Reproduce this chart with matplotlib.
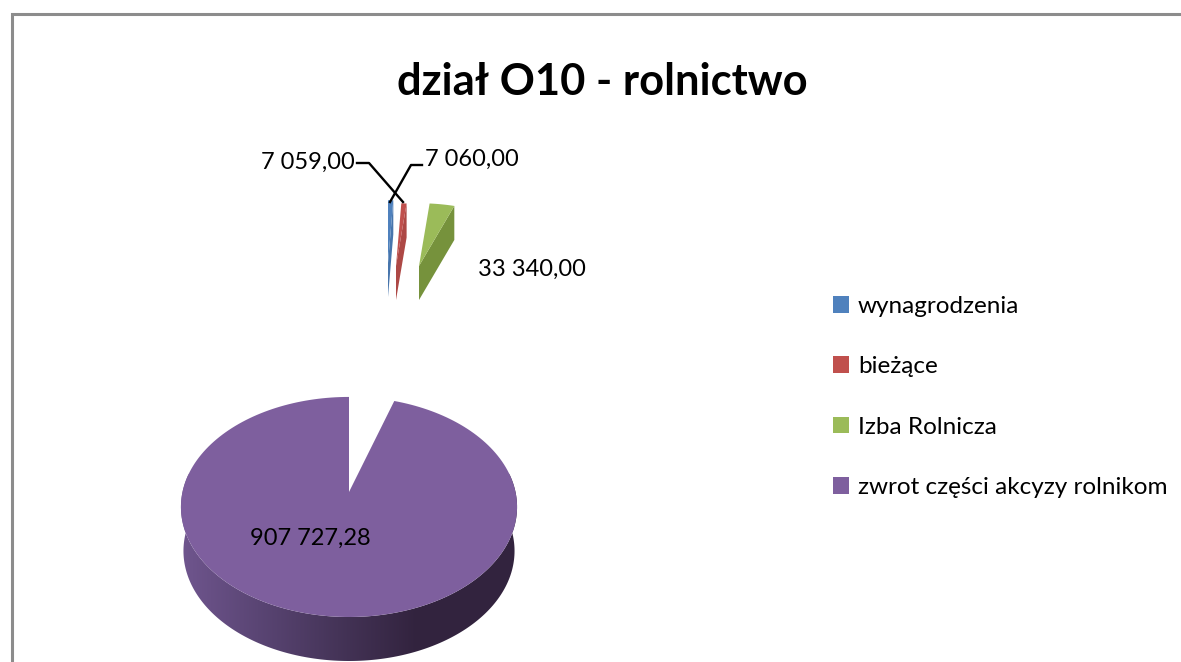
import numpy as np
import matplotlib
matplotlib.use('Agg')
import matplotlib.pyplot as plt
from matplotlib.patches import Patch, Polygon
from matplotlib.colors import LinearSegmentedColormap

categories = ['wynagrodzenia', 'bieżące', 'Izba Rolnicza', 'zwrot części akcyzy rolnikom']
values = [7059.00, 7060.00, 33340.00, 907727.28]
value_labels = ['7 059,00', '7 060,00', '33 340,00', '907 727,28']

top_colors = ['#4f81bd', '#c0504d', '#9bbb59', '#7e5f9e']
side_colors = ['#4775ac', '#ad4845', '#76923c', '#4e3b66']

plt.rcParams['font.family'] = ['Lato', 'DejaVu Sans']

# apex of each slice in pixels, scale x, scale y, depth
placement = [(388, 263, 0.78, 0.66, 34),
             (396, 266, 0.78, 0.66, 34),
             (419, 266, 0.78, 0.66, 34),
             (349, 492, 1.0, 1.0, 44)]

PERSP = 0.136


def project(theta, cx, cy, sx, sy):
    # theta clockwise from 12 o'clock, slight perspective like the excel 3d pie
    u = np.sin(theta)
    v = np.cos(theta)
    d = 1 + PERSP * v
    return cx + sx * 166.5 * u / d, cy - sy * 108 * v / d


fig = plt.figure(figsize=(11.81, 6.62), dpi=100)
ax = fig.add_axes([0, 0, 1, 1])
ax.set_axis_off()

edges = np.radians(np.cumsum([0] + values) / np.sum(values) * 360)

for i in range(4):
    cx, cy, sx, sy, depth = placement[i]
    th = np.linspace(edges[i], edges[i + 1], 200)
    x, y = project(th, cx, cy, sx, sy)
    if i < 3:
        # side wall along the right hand cut
        ax.fill([cx, x[-1], x[-1], cx], [cy, y[-1], y[-1] + depth, cy + depth],
                color=side_colors[i], lw=0, zorder=2)
    else:
        front = np.radians(np.linspace(80, 280, 200))
        fx, fy = project(front, cx, cy, sx, sy)
        bx = cx + (fx - cx) * 0.985
        by = fy + depth
        wall = Polygon(np.column_stack([np.r_[fx, bx[::-1]], np.r_[fy, by[::-1]]]),
                       closed=True, transform=ax.transData, fc='none', ec='none')
        ax.add_patch(wall)
        cmap = LinearSegmentedColormap.from_list(
            'wall', ['#32233e', '#453458', '#5a4574', '#70568f'])
        im = ax.imshow(np.linspace(0, 1, 256)[::-1].reshape(1, -1), cmap=cmap,
                       extent=[178, 418, 700, 400], aspect='auto', zorder=2)
        ax.fill([418, 520, 520, 418], [400, 400, 700, 700], color='#32233e', lw=0,
                zorder=2, clip_path=wall)
        im.set_clip_path(wall)
    ax.fill(np.r_[cx, x], np.r_[cy, y], color=top_colors[i], lw=0, zorder=3)

ax.set_xlim(0, 1181)
ax.set_ylim(662, 0)

# frame of the pasted chart
ax.plot([11.5, 11.5, 1181], [662, 13.5, 13.5], color='#8c8c8c', lw=2.2, zorder=1,
        solid_joinstyle='miter')

ax.text(602, 82, 'dział O10 - rolnictwo', ha='center', va='center', fontsize=31.3,
        fontweight='bold', color='black')

# labels and leader lines
ax.plot([357, 369, 403], [163, 163, 202], color='black', lw=1.7, zorder=4)
ax.plot([422, 411, 390], [165, 165, 202], color='black', lw=1.7, zorder=4)
ax.text(355, 162, value_labels[0], ha='right', va='center', fontsize=17)
ax.text(425, 159, value_labels[1], ha='left', va='center', fontsize=17)
ax.text(478, 269, value_labels[2], ha='left', va='center', fontsize=17)
ax.text(310, 538, value_labels[3], ha='center', va='center', fontsize=17, zorder=5)

handles = [Patch(fc=c, ec='none') for c in top_colors]
ax.legend(handles, categories, loc='upper left', bbox_to_anchor=(828 / 1181, 1 - 291 / 662),
          frameon=False, fontsize=17.5, labelspacing=1.62, handlelength=0.68,
          handleheight=0.68, handletextpad=0.35, borderpad=0.2, borderaxespad=0)

fig.savefig('out.png', dpi=100)
